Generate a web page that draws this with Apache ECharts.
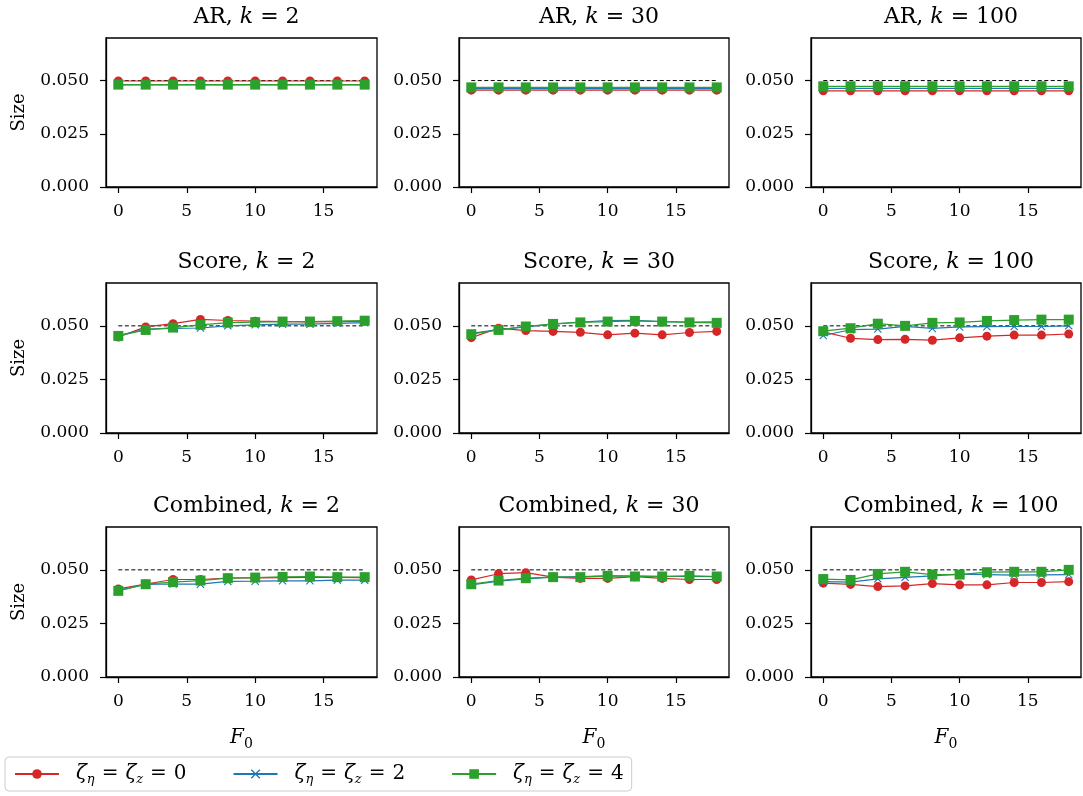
<!DOCTYPE html>
<html><head><meta charset="utf-8">
<script src="https://cdn.jsdelivr.net/npm/echarts@6/dist/echarts.min.js"></script>
<style>html,body{margin:0;padding:0;background:#fff}#c{width:1083px;height:796px}</style>
</head><body><div id="c"></div>
<script>
const xs = [0, 2, 4, 6, 8, 10, 12, 14, 16, 18];
const xTicks = [0, 5, 10, 15];
const yTicks = [0, 0.025, 0.05];
const nominal = 0.05;
const seriesNames = ['ζη = ζz = 0', 'ζη = ζz = 2', 'ζη = ζz = 4'];
const panelTitles = ['AR, {i|k}{e|=}2', 'AR, {i|k}{e|=}30', 'AR, {i|k}{e|=}100',
  'Score, {i|k}{e|=}2', 'Score, {i|k}{e|=}30', 'Score, {i|k}{e|=}100',
  'Combined, {i|k}{e|=}2', 'Combined, {i|k}{e|=}30', 'Combined, {i|k}{e|=}100'];

// AR
const ar2_z0 = [0.0498, 0.0498, 0.0498, 0.0498, 0.0498, 0.0498, 0.0498, 0.0498, 0.0498, 0.0498];
const ar2_z2 = [0.0480, 0.0480, 0.0480, 0.0480, 0.0480, 0.0480, 0.0480, 0.0480, 0.0480, 0.0480];
const ar2_z4 = [0.0481, 0.0481, 0.0481, 0.0481, 0.0481, 0.0481, 0.0481, 0.0481, 0.0481, 0.0481];
const ar30_z0 = [0.0455, 0.0455, 0.0455, 0.0455, 0.0455, 0.0455, 0.0455, 0.0455, 0.0455, 0.0455];
const ar30_z2 = [0.0462, 0.0462, 0.0462, 0.0462, 0.0462, 0.0462, 0.0462, 0.0462, 0.0462, 0.0462];
const ar30_z4 = [0.0468, 0.0468, 0.0468, 0.0468, 0.0468, 0.0468, 0.0468, 0.0468, 0.0468, 0.0468];
const ar100_z0 = [0.0452, 0.0452, 0.0452, 0.0452, 0.0452, 0.0452, 0.0452, 0.0452, 0.0452, 0.0452];
const ar100_z2 = [0.0463, 0.0463, 0.0463, 0.0463, 0.0463, 0.0463, 0.0463, 0.0463, 0.0463, 0.0463];
const ar100_z4 = [0.0473, 0.0473, 0.0473, 0.0473, 0.0473, 0.0473, 0.0473, 0.0473, 0.0473, 0.0473];
// Score
const sc2_z0 = [0.0448, 0.0495, 0.0510, 0.0530, 0.0525, 0.0522, 0.0520, 0.0518, 0.0520, 0.0522];
const sc2_z2 = [0.0455, 0.0485, 0.0488, 0.0490, 0.0500, 0.0505, 0.0508, 0.0508, 0.0512, 0.0515];
const sc2_z4 = [0.0453, 0.0481, 0.0492, 0.0505, 0.0515, 0.0517, 0.0520, 0.0520, 0.0522, 0.0524];
const sc30_z0 = [0.0445, 0.0489, 0.0478, 0.0474, 0.0470, 0.0458, 0.0466, 0.0458, 0.0469, 0.0474];
const sc30_z2 = [0.0465, 0.0482, 0.0495, 0.0508, 0.0518, 0.0524, 0.0526, 0.0520, 0.0518, 0.0519];
const sc30_z4 = [0.0461, 0.0481, 0.0497, 0.0509, 0.0516, 0.0520, 0.0523, 0.0520, 0.0516, 0.0514];
const sc100_z0 = [0.0472, 0.0442, 0.0436, 0.0437, 0.0433, 0.0444, 0.0452, 0.0457, 0.0457, 0.0462];
const sc100_z2 = [0.0455, 0.0482, 0.0485, 0.0498, 0.0488, 0.0495, 0.0496, 0.0497, 0.0497, 0.0500];
const sc100_z4 = [0.0475, 0.0489, 0.0510, 0.0500, 0.0514, 0.0516, 0.0523, 0.0527, 0.0529, 0.0529];
// Combined
const cb2_z0 = [0.0411, 0.0434, 0.0455, 0.0455, 0.0462, 0.0463, 0.0464, 0.0465, 0.0465, 0.0464];
const cb2_z2 = [0.0404, 0.0432, 0.0434, 0.0433, 0.0446, 0.0447, 0.0449, 0.0449, 0.0452, 0.0452];
const cb2_z4 = [0.0402, 0.0433, 0.0443, 0.0450, 0.0461, 0.0464, 0.0467, 0.0469, 0.0466, 0.0466];
const cb30_z0 = [0.0453, 0.0482, 0.0487, 0.0466, 0.0460, 0.0460, 0.0468, 0.0460, 0.0455, 0.0455];
const cb30_z2 = [0.0430, 0.0447, 0.0458, 0.0466, 0.0469, 0.0472, 0.0472, 0.0470, 0.0470, 0.0468];
const cb30_z4 = [0.0433, 0.0450, 0.0461, 0.0466, 0.0466, 0.0472, 0.0469, 0.0469, 0.0472, 0.0469];
const cb100_z0 = [0.0438, 0.0432, 0.0422, 0.0425, 0.0436, 0.0430, 0.0430, 0.0441, 0.0441, 0.0445];
const cb100_z2 = [0.0445, 0.0443, 0.0458, 0.0465, 0.0472, 0.0480, 0.0478, 0.0475, 0.0477, 0.0478];
const cb100_z4 = [0.0457, 0.0453, 0.0481, 0.0491, 0.0478, 0.0478, 0.0489, 0.0491, 0.0491, 0.0500];

const panels = [
  [ar2_z0, ar2_z2, ar2_z4], [ar30_z0, ar30_z2, ar30_z4], [ar100_z0, ar100_z2, ar100_z4],
  [sc2_z0, sc2_z2, sc2_z4], [sc30_z0, sc30_z2, sc30_z4], [sc100_z0, sc100_z2, sc100_z4],
  [cb2_z0, cb2_z2, cb2_z4], [cb30_z0, cb30_z2, cb30_z4], [cb100_z0, cb100_z2, cb100_z4]
];

const FONT = 'DejaVu Serif';
const colors = ['#d62728', '#1f77b4', '#2ca02c'];
const symbols = ['circle',
  'path://M1,0 L5,4 L9,0 L10,1 L6,5 L10,9 L9,10 L5,6 L1,10 L0,9 L4,5 L0,1 Z',
  'rect'];
const symSizes = [9, 8, 10];
const colLeft = [106, 459, 811];
const colWidth = [271, 270, 270];
const rowTop = [38, 283, 527];
const rowHeight = [149, 150, 150];

const grids = [], xAxes = [], yAxes = [], series = [], titles = [];
for (let r = 0; r < 3; r++) {
  for (let c = 0; c < 3; c++) {
    const i = r * 3 + c;
    grids.push({left: colLeft[c], top: rowTop[r], width: colWidth[c], height: rowHeight[r],
      show: true, borderColor: '#000', borderWidth: 1.3, backgroundColor: 'transparent'});
    titles.push({text: panelTitles[i], left: colLeft[c] + colWidth[c] / 2, top: rowTop[r] - 37,
      textAlign: 'center',
      textStyle: {fontFamily: FONT, fontSize: 22, fontWeight: 'normal', color: '#000',
        rich: {i: {fontFamily: FONT, fontSize: 22, fontStyle: 'italic', color: '#000'},
               e: {fontFamily: FONT, fontSize: 22, color: '#000', padding: [0, 7, 0, 7]}}}});
    xAxes.push({type: 'value', gridIndex: i, min: -0.9, max: 18.9,
      splitLine: {show: false},
      axisLine: {show: true, onZero: false, lineStyle: {color: '#000', width: 1.3}},
      axisTick: {show: true, customValues: xTicks, length: 6, lineStyle: {color: '#000', width: 1.2}},
      axisLabel: {customValues: xTicks, fontFamily: FONT, fontSize: 17, color: '#000', margin: 16},
      name: r === 2 ? '{i|F}{s|0}' : '', nameLocation: 'middle', nameGap: 48,
      nameTextStyle: {fontFamily: FONT, fontSize: 20, color: '#000',
        rich: {i: {fontFamily: FONT, fontSize: 20, fontStyle: 'italic', color: '#000', lineHeight: 26, verticalAlign: 'middle'},
               s: {fontFamily: FONT, fontSize: 14, color: '#000', verticalAlign: 'bottom', lineHeight: 15}}}
    });
    yAxes.push({type: 'value', gridIndex: i, min: 0, max: 0.07,
      splitLine: {show: false},
      axisLine: {show: true, onZero: false, lineStyle: {color: '#000', width: 1.3}},
      axisTick: {show: true, customValues: yTicks, length: 6, lineStyle: {color: '#000', width: 1.2}},
      axisLabel: {customValues: yTicks, fontFamily: FONT, fontSize: 17, color: '#000', margin: 17,
        formatter: v => v.toFixed(3)},
      name: c === 0 ? 'Size' : '', nameLocation: 'middle', nameGap: 78, nameRotate: 90,
      nameTextStyle: {fontFamily: FONT, fontSize: 18, color: '#000'}
    });
    series.push({type: 'line', xAxisIndex: i, yAxisIndex: i, name: 'nominal',
      data: [[xs[0], nominal], [xs[xs.length - 1], nominal]], symbol: 'none', silent: true,
      lineStyle: {color: '#000', width: 1, type: [4, 2.5]}, z: 1, animation: false});
    for (let s = 0; s < 3; s++) {
      series.push({type: 'line', xAxisIndex: i, yAxisIndex: i, name: seriesNames[s],
        data: xs.map((x, k) => [x, panels[i][s][k]]),
        symbol: symbols[s], symbolSize: symSizes[s], showSymbol: true,
        itemStyle: {color: colors[s]}, lineStyle: {color: colors[s], width: 1.2},
        z: 2 + s, animation: false});
    }
  }
}

const legendFmt = {
  'ζη = ζz = 0': '{g| }{m|ζ}{s|η}{e|=}{m|ζ}{s|z}{e|=}0',
  'ζη = ζz = 2': '{g| }{m|ζ}{s|η}{e|=}{m|ζ}{s|z}{e|=}2',
  'ζη = ζz = 4': '{g| }{m|ζ}{s|η}{e|=}{m|ζ}{s|z}{e|=}4'
};

const chart = echarts.init(document.getElementById('c'), null, {renderer: 'canvas'});
chart.setOption({
  animation: false,
  title: titles,
  grid: grids,
  xAxis: xAxes,
  yAxis: yAxes,
  series: series,
  legend: {
    data: seriesNames, left: 5, top: 757, orient: 'horizontal',
    itemWidth: 44, itemHeight: 12, itemGap: 46,
    padding: [5, 8, 5, 9],
    borderColor: '#cccccc', borderWidth: 1, borderRadius: 4,
    formatter: n => legendFmt[n],
    textStyle: {fontFamily: FONT, fontSize: 20, color: '#000', lineHeight: 24,
      rich: {g: {fontSize: 20, width: 12},
             e: {fontFamily: FONT, fontSize: 20, color: '#000', lineHeight: 24, verticalAlign: 'middle', padding: [0, 7, 0, 7]},
             m: {fontFamily: FONT, fontSize: 20, fontStyle: 'italic', color: '#000', lineHeight: 24, verticalAlign: 'middle'},
             s: {fontFamily: FONT, fontSize: 13, fontStyle: 'italic', color: '#000', lineHeight: 13, verticalAlign: 'bottom'}}}
  }
});
</script>
</body></html>
